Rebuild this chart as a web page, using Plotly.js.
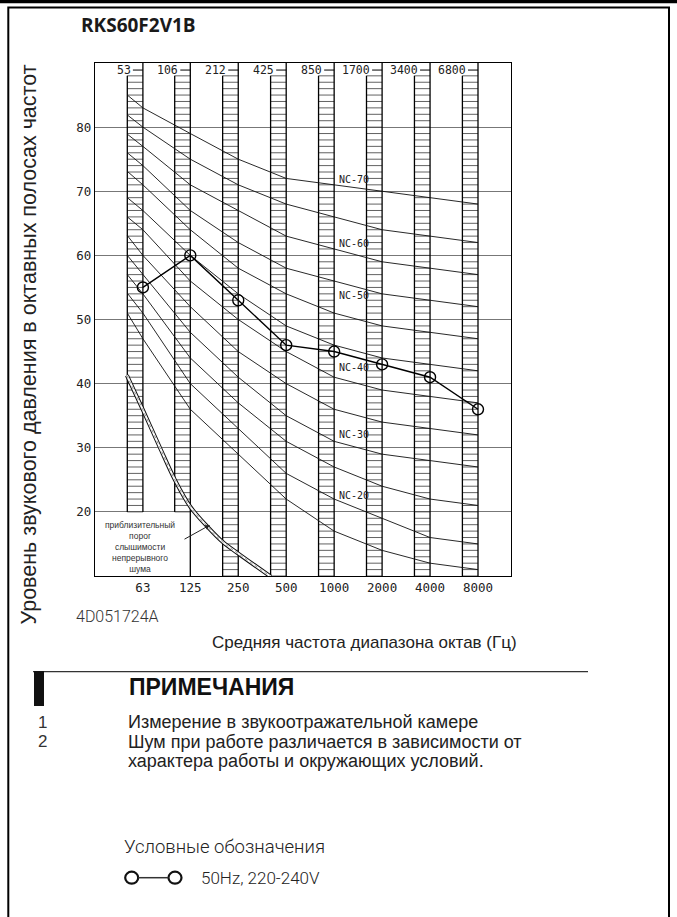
<!DOCTYPE html>
<html><head><meta charset="utf-8">
<script src="https://cdn.plot.ly/plotly-3.0.1.min.js"></script>
<style>html,body{margin:0;padding:0;background:#fff;}#chart{width:677px;height:917px;}</style>
</head><body><div id="chart"></div>
<script>
// ---------------- data ----------------
const bandCenters   = [63, 125, 250, 500, 1000, 2000, 4000, 8000];
const bandTickText  = ['63', '125', '250', '500', '1000', '2000', '4000', '8000'];
const bandEdgeLabels = ['53', '106', '212', '425', '850', '1700', '3400', '6800'];
const measured50Hz  = [55, 60, 53, 46, 45, 43, 41, 36];
const seriesName    = '50Hz, 220-240V';

const ncNames = ['NC-15','NC-20','NC-25','NC-30','NC-35','NC-40','NC-45','NC-50','NC-55','NC-60','NC-65','NC-70'];
const nc15 = [47, 36, 29, 22, 17, 14, 12, 11];
const nc20 = [51, 40, 33, 26, 22, 19, 16, 15];
const nc25 = [54, 44, 37, 31, 27, 24, 22, 21];
const nc30 = [57, 48, 41, 35, 31, 29, 28, 27];
const nc35 = [60, 52, 45, 40, 36, 34, 33, 32];
const nc40 = [64, 56, 50, 45, 41, 39, 38, 37];
const nc45 = [67, 60, 54, 49, 46, 44, 43, 42];
const nc50 = [71, 64, 58, 54, 51, 49, 48, 47];
const nc55 = [74, 67, 62, 58, 56, 54, 53, 52];
const nc60 = [77, 71, 67, 63, 61, 59, 58, 57];
const nc65 = [80, 75, 71, 68, 66, 64, 63, 62];
const nc70 = [83, 79, 75, 72, 71, 70, 69, 68];
const ncCurves = [nc15, nc20, nc25, nc30, nc35, nc40, nc45, nc50, nc55, nc60, nc65, nc70];
// level of each NC curve where it starts, at the left edge of the 63 Hz strip
const ncLeftEdge = [51.0, 54.1, 57.0, 60.0, 63.1, 66.0, 69.0, 73.1, 76.0, 78.9, 81.9, 85.0];

const ncLabelText  = ['NC-70', 'NC-60', 'NC-50', 'NC-40', 'NC-30', 'NC-20'];
const ncLabelLevel = [71.9, 61.9, 53.7, 42.5, 32.1, 22.6];

// approximate threshold of hearing for continuous noise
const thresholdFreq  = [50, 63, 80, 100, 125, 160, 200, 250, 400];
const thresholdLevel = [41.3, 35.9, 30.2, 25.0, 20.8, 17.7, 15.3, 13.5, 9.9];
const thresholdLabel = 'приблизительный<br>порог<br>слышимости<br>непрерывного<br>шума';

// hatched octave strips: lower end of hatch and of the right-hand edge line
const hatchBottom    = [20, 20, 10, 10, 10, 10, 10, 10];
const edgeLineBottom = [20, 10, 10, 10, 10, 10, 10, 10];
const hatchTop = 88, axisTop = 90;

const yTicks = [20, 30, 40, 50, 60, 70, 80];

const texts = {
  model: 'RKS60F2V1B',
  yTitle: 'Уровень звукового давления в октавных полосах частот',
  xTitle: 'Средняя частота диапазона октав (Гц)',
  code: '4D051724A',
  notesHead: 'ПРИМЕЧАНИЯ',
  note1: 'Измерение в звукоотражательной камере',
  note2a: 'Шум при работе различается в зависимости от',
  note2b: 'характера работы и окружающих условий.',
  legendHead: 'Условные обозначения'
};

// ---------------- geometry ----------------
const W = 677, H = 917;
const M = {l: 95, r: 166, t: 63, b: 341};
const PW = W - M.l - M.r, PH = H - M.t - M.b;
const OCT_PX = 47.95;
const xLogLeft = Math.log10(125) - (190.3 - M.l) / OCT_PX * Math.log10(2);
const xLogRight = xLogLeft + PW / OCT_PX * Math.log10(2);
const BAR_OCT = 15.6 / OCT_PX;
const DASH_OCT = 10 / OCT_PX;
const TOP_LABEL_DB = 88.9;
const X = px => (px - M.l) / PW;
const Y = py => (M.t + PH - py) / PH;

const traces = [];

// hatch lines
bandCenters.forEach((f, i) => {
  const fl = f / Math.pow(2, BAR_OCT);
  const hx = [], hy = [];
  for (let d = hatchBottom[i]; d <= hatchTop; d++) { hx.push(fl, f, null); hy.push(d, d, null); }
  traces.push({x: hx, y: hy, mode: 'lines', line: {color: '#3a3a3a', width: 0.8}, hoverinfo: 'skip'});
  traces.push({x: [fl, fl, null, f, f], y: [hatchBottom[i], hatchTop, null, edgeLineBottom[i], axisTop],
    mode: 'lines', line: {color: '#000', width: 1.3}, hoverinfo: 'skip'});
  // dash joining the band edge label to the strip edge
  traces.push({x: [f / Math.pow(2, DASH_OCT), f], y: [TOP_LABEL_DB, TOP_LABEL_DB],
    mode: 'lines', line: {color: '#000', width: 1}, hoverinfo: 'skip'});
});

// NC curves
ncCurves.forEach((c, k) => {
  traces.push({x: [bandCenters[0] / Math.pow(2, BAR_OCT)].concat(bandCenters), y: [ncLeftEdge[k]].concat(c),
    mode: 'lines', name: ncNames[k], line: {color: '#111', width: 0.9}, hoverinfo: 'skip'});
});

// threshold double line
traces.push({x: thresholdFreq, y: thresholdLevel, mode: 'lines', line: {color: '#111', width: 4, shape: 'spline'}, hoverinfo: 'skip'});
traces.push({x: thresholdFreq, y: thresholdLevel, mode: 'lines', line: {color: '#fff', width: 2, shape: 'spline'}, hoverinfo: 'skip'});
traces.push({x: thresholdFreq, y: thresholdLevel, mode: 'lines', line: {color: '#777', width: 0.8, dash: 'dot', shape: 'spline'}, hoverinfo: 'skip'});

// measured series
traces.push({x: bandCenters, y: measured50Hz, name: seriesName, mode: 'lines+markers',
  line: {color: '#000', width: 1.4},
  marker: {symbol: 'circle-open', size: 11, color: '#000', line: {width: 1.4, color: '#000'}}});

// ---------------- annotations ----------------
const ann = [];
const mono = 'DejaVu Sans Mono, monospace';
const sans = 'Liberation Sans, Arial, sans-serif';

bandCenters.forEach((f, i) => {
  ann.push({xref: 'x', yref: 'y', x: Math.log10(f), y: TOP_LABEL_DB, text: bandEdgeLabels[i],
    xanchor: 'right', yanchor: 'middle', xshift: -10, showarrow: false,
    font: {family: mono, size: 11.5, color: '#222'}});
});
ncLabelText.forEach((t, i) => {
  ann.push({xref: 'x', yref: 'y', x: Math.log10(1000), y: ncLabelLevel[i], text: t,
    xanchor: 'left', yanchor: 'middle', xshift: 2.5, showarrow: false,
    font: {family: mono, size: 10, color: '#222'}});
});
ann.push({xref: 'paper', yref: 'paper', x: X(140), y: Y(547), text: thresholdLabel, showarrow: false,
  xanchor: 'center', yanchor: 'middle', align: 'center', font: {family: sans, size: 8.5, color: '#333'}});
ann.push({xref: 'paper', yref: 'paper', x: X(210), y: Y(525), text: '', showarrow: true,
  ax: -27, ay: 15, arrowhead: 2, arrowsize: 1, arrowwidth: 1, arrowcolor: '#222', standoff: 0});

const P = (px, py, text, font, extra) => Object.assign({xref: 'paper', yref: 'paper', x: X(px), y: Y(py), text: text,
  showarrow: false, xanchor: 'left', yanchor: 'middle', font: font}, extra || {});
ann.push(P(79, 25, '<b>' + texts.model + '</b>', {family: 'Open Sans, sans-serif', size: 19, color: '#1a1a1a'}));
ann.push(P(28.5, 345, texts.yTitle, {family: sans, size: 21.5, color: '#222'}, {xanchor: 'center', textangle: -90}));
ann.push(P(74, 616.7, texts.code, {family: 'Roboto, sans-serif', size: 16, color: '#333', weight: 300}));
ann.push(P(364, 642, texts.xTitle, {family: sans, size: 17, color: '#222'}, {xanchor: 'center'}));
ann.push(P(127, 687, '<b>' + texts.notesHead + '</b>', {family: sans, size: 23, color: '#111'}));
const noteFont = {family: sans, size: 18, color: '#222'};
ann.push(P(37, 722.3, '1', {family: sans, size: 17, color: '#333'}, {borderpad: 0}));
ann.push(P(127, 722.3, texts.note1, noteFont, {borderpad: 0}));
ann.push(P(37, 741.7, '2', {family: sans, size: 17, color: '#333'}, {borderpad: 0}));
ann.push(P(127, 741.7, texts.note2a, noteFont, {borderpad: 0}));
ann.push(P(127, 761.2, texts.note2b, noteFont, {borderpad: 0}));
ann.push(P(122, 846.7, texts.legendHead, {family: 'Roboto, sans-serif', size: 18.5, color: '#222', weight: 300}));
ann.push(P(199, 877.7, seriesName, {family: 'Roboto, sans-serif', size: 17, color: '#222', weight: 300}));

// ---------------- decoration shapes ----------------
const shapes = [
  {type: 'rect', xref: 'paper', yref: 'paper', x0: X(0), x1: X(W), y0: Y(0), y1: Y(3.3), fillcolor: '#000', line: {width: 0}},
  {type: 'rect', xref: 'paper', yref: 'paper', x0: X(8.3), x1: X(669), y0: Y(7.5), y1: Y(940), line: {color: '#000', width: 2}},
  {type: 'line', xref: 'paper', yref: 'paper', x0: X(33), x1: X(588), y0: Y(671.7), y1: Y(671.7), line: {color: '#333', width: 1.3}},
  {type: 'rect', xref: 'paper', yref: 'paper', x0: X(34), x1: X(44), y0: Y(671), y1: Y(706), fillcolor: '#111', line: {width: 0}},
  {type: 'circle', xref: 'paper', yref: 'paper', x0: X(125.2), x1: X(138.2), y0: Y(871.7), y1: Y(883.7), line: {color: '#111', width: 2.2}},
  {type: 'circle', xref: 'paper', yref: 'paper', x0: X(168.5), x1: X(181.5), y0: Y(871.7), y1: Y(883.7), line: {color: '#111', width: 2.2}},
  {type: 'line', xref: 'paper', yref: 'paper', x0: X(138.2), x1: X(168.5), y0: Y(877.7), y1: Y(877.7), line: {color: '#333', width: 1.5}}
];

const layout = {
  width: W, height: H, margin: M, showlegend: false,
  paper_bgcolor: '#fff', plot_bgcolor: '#fff',
  xaxis: {type: 'log', range: [xLogLeft, xLogRight], tickvals: bandCenters, ticktext: bandTickText,
    showgrid: false, zeroline: false, showline: true, mirror: true, linecolor: '#000', linewidth: 1.2,
    ticks: '', tickfont: {family: mono, size: 12.5, color: '#222'}, fixedrange: true},
  yaxis: {range: [10, axisTop], tickvals: yTicks, showgrid: true, gridcolor: '#777', gridwidth: 1,
    zeroline: false, showline: true, mirror: true, linecolor: '#000', linewidth: 1.2,
    ticks: '', tickfont: {family: mono, size: 12.5, color: '#222'}, fixedrange: true},
  annotations: ann, shapes: shapes
};

Plotly.newPlot('chart', traces, layout, {staticPlot: true, displayModeBar: false});
</script></body></html>
